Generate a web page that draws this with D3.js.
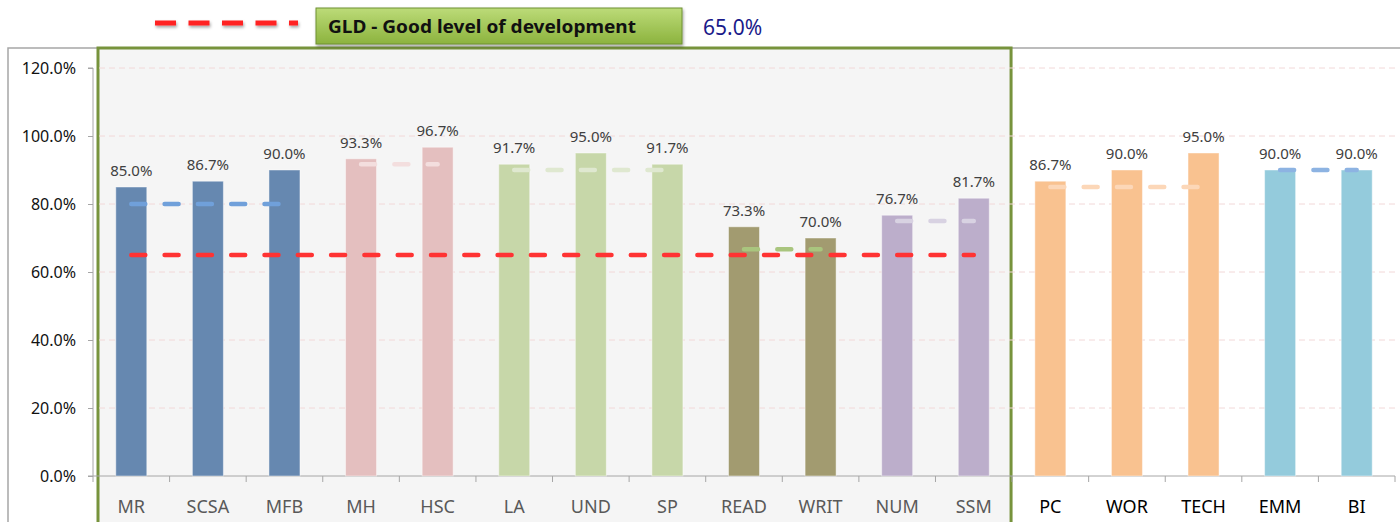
<!DOCTYPE html>
<html>
<head>
<meta charset="utf-8">
<script src="https://cdn.jsdelivr.net/npm/d3@7"></script>
<style>
  body { margin: 0; background: #fff; }
  svg { display: block; font-family: 'Noto Sans', sans-serif; }
</style>
</head>
<body>
<div id="chart"></div>
<script>
// Chart data
const categories = ['MR', 'SCSA', 'MFB', 'MH', 'HSC', 'LA', 'UND', 'SP', 'READ', 'WRIT', 'NUM', 'SSM', 'PC', 'WOR', 'TECH', 'EMM', 'BI']
const values = [85.0, 86.7, 90.0, 93.3, 96.7, 91.7, 95.0, 91.7, 73.3, 70.0, 76.7, 81.7, 86.7, 90.0, 95.0, 90.0, 90.0]
const yTicks = [0, 20, 40, 60, 80, 100, 120]

// Areas of learning: first/last category index, benchmark line value
const groupStart = [0, 3, 5, 8, 10, 12, 15]
const groupEnd = [2, 4, 7, 9, 11, 14, 16]
const groupBenchmark = [80.0, 91.7, 90.0, 66.7, 75.0, 85.0, 90.0]
const groupColors = ['#6688b0', '#e4bfbf', '#c7d7a9', '#a29b70', '#bcaecb', '#f9c290', '#94cbdc']
const benchmarkColors = ['#70a0da', '#f3dede', '#dfe8d0', '#a9c57e', '#d8d2e2', '#fcd7b8', '#8db3e2']

const gldValue = 65.0
const gldLabel = 'GLD - Good level of development'
const boxedCount = 12 // categories inside the green panel

const width = 1400
const height = 522
const axisX = 93
const plotRight = 1395

const svg = d3.select('#chart').append('svg')
  .attr('width', width)
  .attr('height', height)

const defs = svg.append('defs')
const grad = defs.append('linearGradient')
  .attr('id', 'gldFill')
  .attr('x1', 0).attr('y1', 0).attr('x2', 0).attr('y2', 1)
grad.append('stop').attr('offset', '0%').attr('stop-color', '#bcdb78')
grad.append('stop').attr('offset', '100%').attr('stop-color', '#8cb33e')

const shadow = defs.append('filter').attr('id', 'shadow')
  .attr('filterUnits', 'userSpaceOnUse')
  .attr('x', 0).attr('y', 0).attr('width', width).attr('height', 60)
shadow.append('feDropShadow')
  .attr('dx', 1).attr('dy', 2).attr('stdDeviation', 1.5)
  .attr('flood-color', '#000').attr('flood-opacity', 0.35)

const x = d3.scaleBand()
  .domain(categories)
  .range([axisX, plotRight])
  .padding(0)

const y = d3.scaleLinear()
  .domain([0, 120])
  .range([476, 68])

const barWidth = 31
const cx = d => x(d) + x.bandwidth() / 2
const colorOf = i => groupColors[groupStart.findIndex((s, g) => i >= s && i <= groupEnd[g])]

// Outer chart frame
svg.append('path')
  .attr('d', `M8,${height} V48 H${width}`)
  .attr('fill', 'none')
  .attr('stroke', '#a6a6a6')
  .attr('stroke-width', 1.5)

// Green panel around the prime/specific areas
const boxRight = x(categories[boxedCount - 1]) + x.bandwidth() - 1
svg.append('rect')
  .attr('x', axisX + 5)
  .attr('y', 48)
  .attr('width', boxRight - axisX - 5)
  .attr('height', height)
  .attr('fill', '#f5f5f5')
  .attr('stroke', '#77933c')
  .attr('stroke-width', 3)

// Gridlines
svg.append('g')
  .selectAll('line')
  .data(yTicks.filter(t => t > 0))
  .enter()
  .append('line')
  .attr('x1', axisX + 6)
  .attr('x2', plotRight)
  .attr('y1', d => y(d))
  .attr('y2', d => y(d))
  .attr('stroke', '#f2d8d8')
  .attr('stroke-dasharray', '6,4')

// Y axis
const yAxis = svg.append('g')
  .attr('transform', `translate(${axisX},0)`)
  .call(d3.axisLeft(y).tickValues(yTicks).tickSize(5).tickPadding(12).tickFormat(d => d.toFixed(1) + '%'))
yAxis.select('.domain').attr('stroke', '#a6a6a6').attr('d', `M-5,${y(120)}H0V${y(0) + 6}`)
yAxis.selectAll('.tick line').attr('stroke', '#a6a6a6')
yAxis.selectAll('text')
  .attr('font-family', "'Noto Sans', sans-serif")
  .attr('font-size', '16px')
  .attr('fill', '#111')

// X axis
svg.append('line')
  .attr('x1', axisX - 5).attr('x2', plotRight)
  .attr('y1', y(0)).attr('y2', y(0))
  .attr('stroke', '#a6a6a6')
svg.append('g')
  .selectAll('line')
  .data(categories.slice(1))
  .enter()
  .append('line')
  .attr('x1', d => x(d)).attr('x2', d => x(d))
  .attr('y1', y(0)).attr('y2', y(0) + 6)
  .attr('stroke', '#a6a6a6')
svg.append('line')
  .attr('x1', plotRight).attr('x2', plotRight)
  .attr('y1', y(0)).attr('y2', y(0) + 6)
  .attr('stroke', '#a6a6a6')

svg.append('g')
  .selectAll('text')
  .data(categories)
  .enter()
  .append('text')
  .attr('x', d => cx(d))
  .attr('y', 513)
  .attr('text-anchor', 'middle')
  .attr('font-size', '18px')
  .attr('fill', (d, i) => i < boxedCount ? '#595959' : '#000')
  .text(d => d)

// Bars
svg.append('g')
  .selectAll('rect')
  .data(values)
  .enter()
  .append('rect')
  .attr('x', (d, i) => cx(categories[i]) - barWidth / 2)
  .attr('y', d => y(d))
  .attr('width', barWidth)
  .attr('height', d => y(0) - y(d))
  .attr('fill', (d, i) => colorOf(i))
  .attr('stroke', 'rgba(255,255,255,0.45)')
  .attr('stroke-width', 1)

// Value labels
svg.append('g')
  .selectAll('text')
  .data(values)
  .enter()
  .append('text')
  .attr('x', (d, i) => cx(categories[i]))
  .attr('y', d => y(d) - 11)
  .attr('text-anchor', 'middle')
  .attr('font-size', '15px')
  .attr('fill', '#404040')
  .text(d => d.toFixed(1) + '%')

// Benchmark lines per area
const dash = '14,19.3'
svg.append('g')
  .selectAll('line')
  .data(groupBenchmark)
  .enter()
  .append('line')
  .attr('x1', (d, g) => cx(categories[groupStart[g]]))
  .attr('x2', (d, g) => cx(categories[groupEnd[g]]))
  .attr('y1', d => y(d))
  .attr('y2', d => y(d))
  .attr('stroke', (d, g) => benchmarkColors[g])
  .attr('stroke-width', 4.5)
  .attr('stroke-linecap', 'round')
  .attr('stroke-dasharray', dash)

// GLD line across the boxed areas
svg.append('line')
  .attr('x1', cx(categories[0]))
  .attr('x2', cx(categories[boxedCount - 1]))
  .attr('y1', y(gldValue))
  .attr('y2', y(gldValue))
  .attr('stroke', '#ff3333')
  .attr('stroke-width', 4.5)
  .attr('stroke-linecap', 'round')
  .attr('stroke-dasharray', dash)

// Legend
const legend = svg.append('g')
legend.append('line')
  .attr('x1', 155).attr('x2', 298)
  .attr('y1', 23).attr('y2', 23)
  .attr('stroke', '#ff2020')
  .attr('stroke-width', 5)
  .attr('stroke-dasharray', '21,12.5')
  .attr('filter', 'url(#shadow)')

legend.append('rect')
  .attr('x', 316).attr('y', 8)
  .attr('width', 366).attr('height', 36)
  .attr('fill', 'url(#gldFill)')
  .attr('stroke', '#6f9133')
  .attr('stroke-width', 1)
  .attr('filter', 'url(#shadow)')

legend.append('text')
  .attr('x', 328).attr('y', 33)
  .attr('font-size', '18px')
  .attr('font-weight', 'bold')
  .attr('fill', '#111')
  .attr('textLength', 308)
  .attr('lengthAdjust', 'spacingAndGlyphs')
  .text(gldLabel)

legend.append('text')
  .attr('x', 703).attr('y', 35)
  .attr('font-size', '21px')
  .attr('fill', '#1a1a8a')
  .text(gldValue.toFixed(1) + '%')
</script>
</body>
</html>
